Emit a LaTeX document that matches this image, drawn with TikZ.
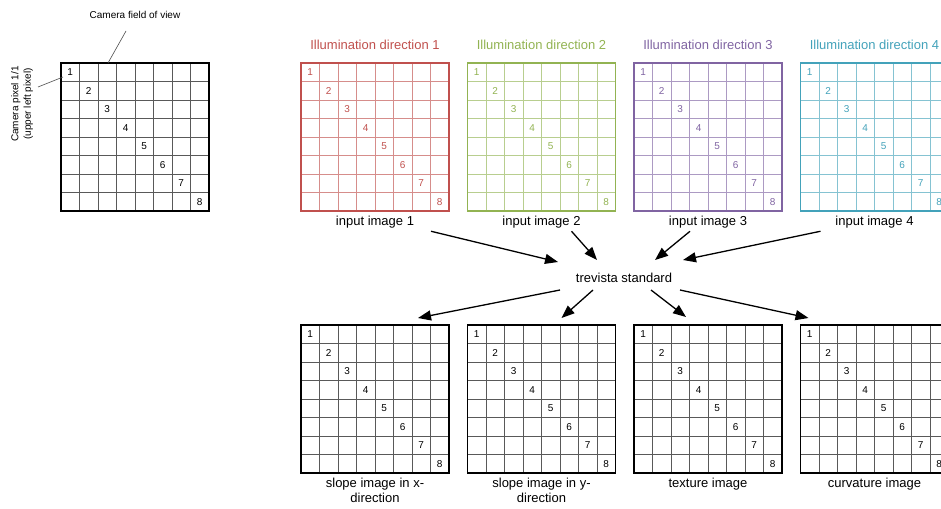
\documentclass[tikz,border=0pt]{standalone}
\usepackage{fontspec}
\setmainfont{Liberation Sans}
\usepackage{xcolor}
\usetikzlibrary{arrows.meta,positioning,calc}

\definecolor{illumred}{HTML}{C0504D}
\definecolor{illumgreen}{HTML}{92B352}
\definecolor{illumpurple}{HTML}{8064A2}
\definecolor{illumteal}{HTML}{43A2BA}

% name, colour, frame width, x, y (top left)
\newcommand{\pixgrid}[5]{%
  \node[imgframe, anchor=north west] (#1) at (#4,#5) {};
  \foreach \k in {1,...,7} {
    \draw[cellline, #2!65!white] ($(#1.north west)+(\k*18.5,0)$) -- ($(#1.south west)+(\k*18.5,0)$);
    \draw[cellline, #2!65!white] ($(#1.north west)+(0,\k*18.5)$) -- ($(#1.north east)+(0,\k*18.5)$);
  }
  \foreach \k in {1,...,8}
    \node[pixnum, text=#2] at ($(#1.north west)+(\k*18.5-9.25,\k*18.5-9.25)$) {\k};
  \draw[#2, line width=#3] (#1.north west) rectangle (#1.south east);
}

\begin{document}
\begin{tikzpicture}[
x=1pt, y=-1pt,
imgframe/.style={minimum size=148pt, inner sep=0pt, outer sep=0pt},
cellline/.style={line width=0.8pt},
pixnum/.style={font=\fontsize{10}{12}\selectfont, inner sep=0pt},
title/.style={font=\fontsize{13}{15}\selectfont, inner sep=0pt},
caption/.style={font=\fontsize{13}{15}\selectfont, inner sep=0pt, align=center},
note/.style={font=\fontsize{10}{12.5}\selectfont, inner sep=0pt, align=center},
flow/.style={-{Triangle[length=13pt,width=10pt]}, line width=1.3pt},
pointer/.style={draw=black!70, line width=0.6pt}
]
\useasboundingbox (0,0) rectangle (941,508);
\clip (0,0) rectangle (941,508);

% camera field of view
\pixgrid{cam}{black}{2.2pt}{61}{63}
\node[note] (fov) at (135,15) {Camera field of view};
\node[note, rotate=90] (pixlab) at (22,104) {Camera pixel 1/1\\(upper left pixel)};
\draw[pointer] ($(fov)+(-9,16)$) -- ($(cam.north west)+(47,0)$);
\draw[pointer] ($(pixlab)+(16,-17)$) -- ($(cam.north west)+(2,14)$);

% input images
\pixgrid{in1}{illumred}{1.6pt}{301}{63}
\pixgrid{in2}{illumgreen}{1.6pt}{467.5}{63}
\pixgrid{in3}{illumpurple}{1.6pt}{634}{63}
\pixgrid{in4}{illumteal}{1.6pt}{800.5}{63}
\node[title, text=illumred, above=13pt of in1] (dir1) {Illumination direction 1};
\node[title, text=illumgreen, above=13pt of in2] (dir2) {Illumination direction 2};
\node[title, text=illumpurple, above=13pt of in3] (dir3) {Illumination direction 3};
\node[title, text=illumteal, above=13pt of in4] (dir4) {Illumination direction 4};
\node[caption, below=5pt of in1] (lab1) {input image 1};
\node[caption, below=5pt of in2] (lab2) {input image 2};
\node[caption, below=5pt of in3] (lab3) {input image 3};
\node[caption, below=5pt of in4] (lab4) {input image 4};

% processing
\node[caption] (tv) at (624,278) {trevista standard};

% result images
\pixgrid{gx}{black}{1.6pt}{301}{325}
\pixgrid{gy}{black}{1.6pt}{467.5}{325}
\pixgrid{gtex}{black}{1.6pt}{634}{325}
\pixgrid{gcurv}{black}{1.6pt}{800.5}{325}
\node[caption, below=5pt of gx] (capx) {slope image in x-\\direction};
\node[caption, below=5pt of gy] (capy) {slope image in y-\\direction};
\node[caption, below=5pt of gtex] (captex) {texture image};
\node[caption, below=5pt of gcurv] (capcurv) {curvature image};

\draw[flow] ($(lab1)+(56,9)$) -- ($(tv)+(-66,-16)$);
\draw[flow] ($(lab2)+(30,9)$) -- ($(tv)+(-27,-18)$);
\draw[flow] ($(lab3)+(-18,9)$) -- ($(tv)+(31,-18)$);
\draw[flow] ($(lab4)+(-54,9)$) -- ($(tv)+(59,-18)$);

\draw[flow] ($(tv)+(-64,12)$) -- ($(gx.north east)+(-31,-7)$);
\draw[flow] ($(tv)+(-31,12)$) -- ($(gy.north)+(20,-7)$);
\draw[flow] ($(tv)+(27,12)$) -- ($(gtex.north)+(-22,-8)$);
\draw[flow] ($(tv)+(56,12)$) -- ($(gcurv.north west)+(8,-7)$);
\end{tikzpicture}
\end{document}
